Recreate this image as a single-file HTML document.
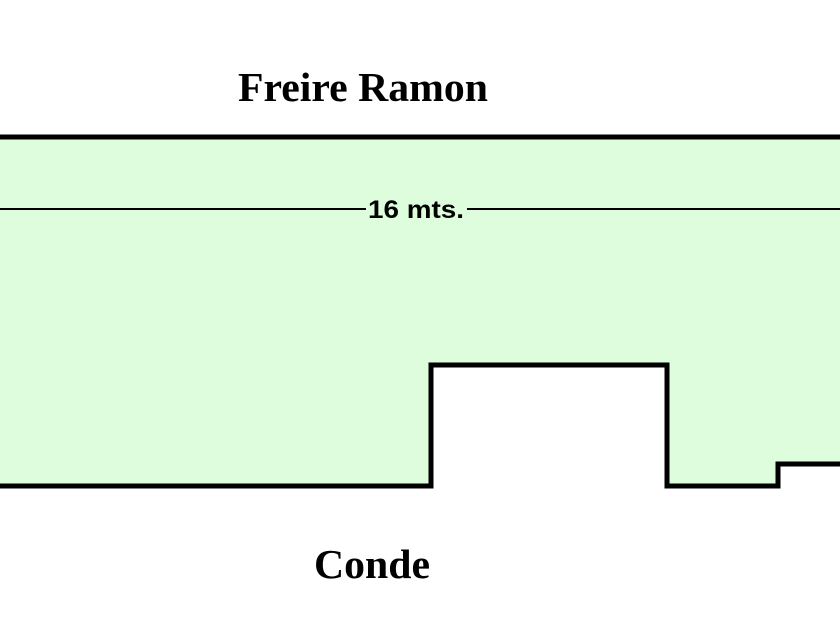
<!DOCTYPE html>
<html><head><style>body{margin:0;background:#fff}svg{display:block}</style></head><body>
<svg width="840" height="630" viewBox="0 0 840 630" xmlns="http://www.w3.org/2000/svg">
<polygon points="-10,137 850,137 850,464 778,464 778,486 667,486 667,365 431,365 431,486 -10,486" fill="#ddfddd" stroke="#000" stroke-width="5" stroke-linejoin="miter"/>
<line x1="0" y1="209" x2="366" y2="209" stroke="#000" stroke-width="2"/>
<line x1="467" y1="209" x2="840" y2="209" stroke="#000" stroke-width="2"/>
<text x="416" y="218" font-family="Liberation Sans, sans-serif" font-weight="bold" font-size="25" text-anchor="middle" textLength="96" lengthAdjust="spacingAndGlyphs">16 mts.</text>
<text x="363" y="101" font-family="Liberation Serif, serif" font-weight="bold" font-size="41" text-anchor="middle" textLength="250" lengthAdjust="spacingAndGlyphs">Freire Ramon</text>
<text x="372" y="578" font-family="Liberation Serif, serif" font-weight="bold" font-size="41" text-anchor="middle" textLength="116" lengthAdjust="spacingAndGlyphs">Conde</text>
</svg>
</body></html>
